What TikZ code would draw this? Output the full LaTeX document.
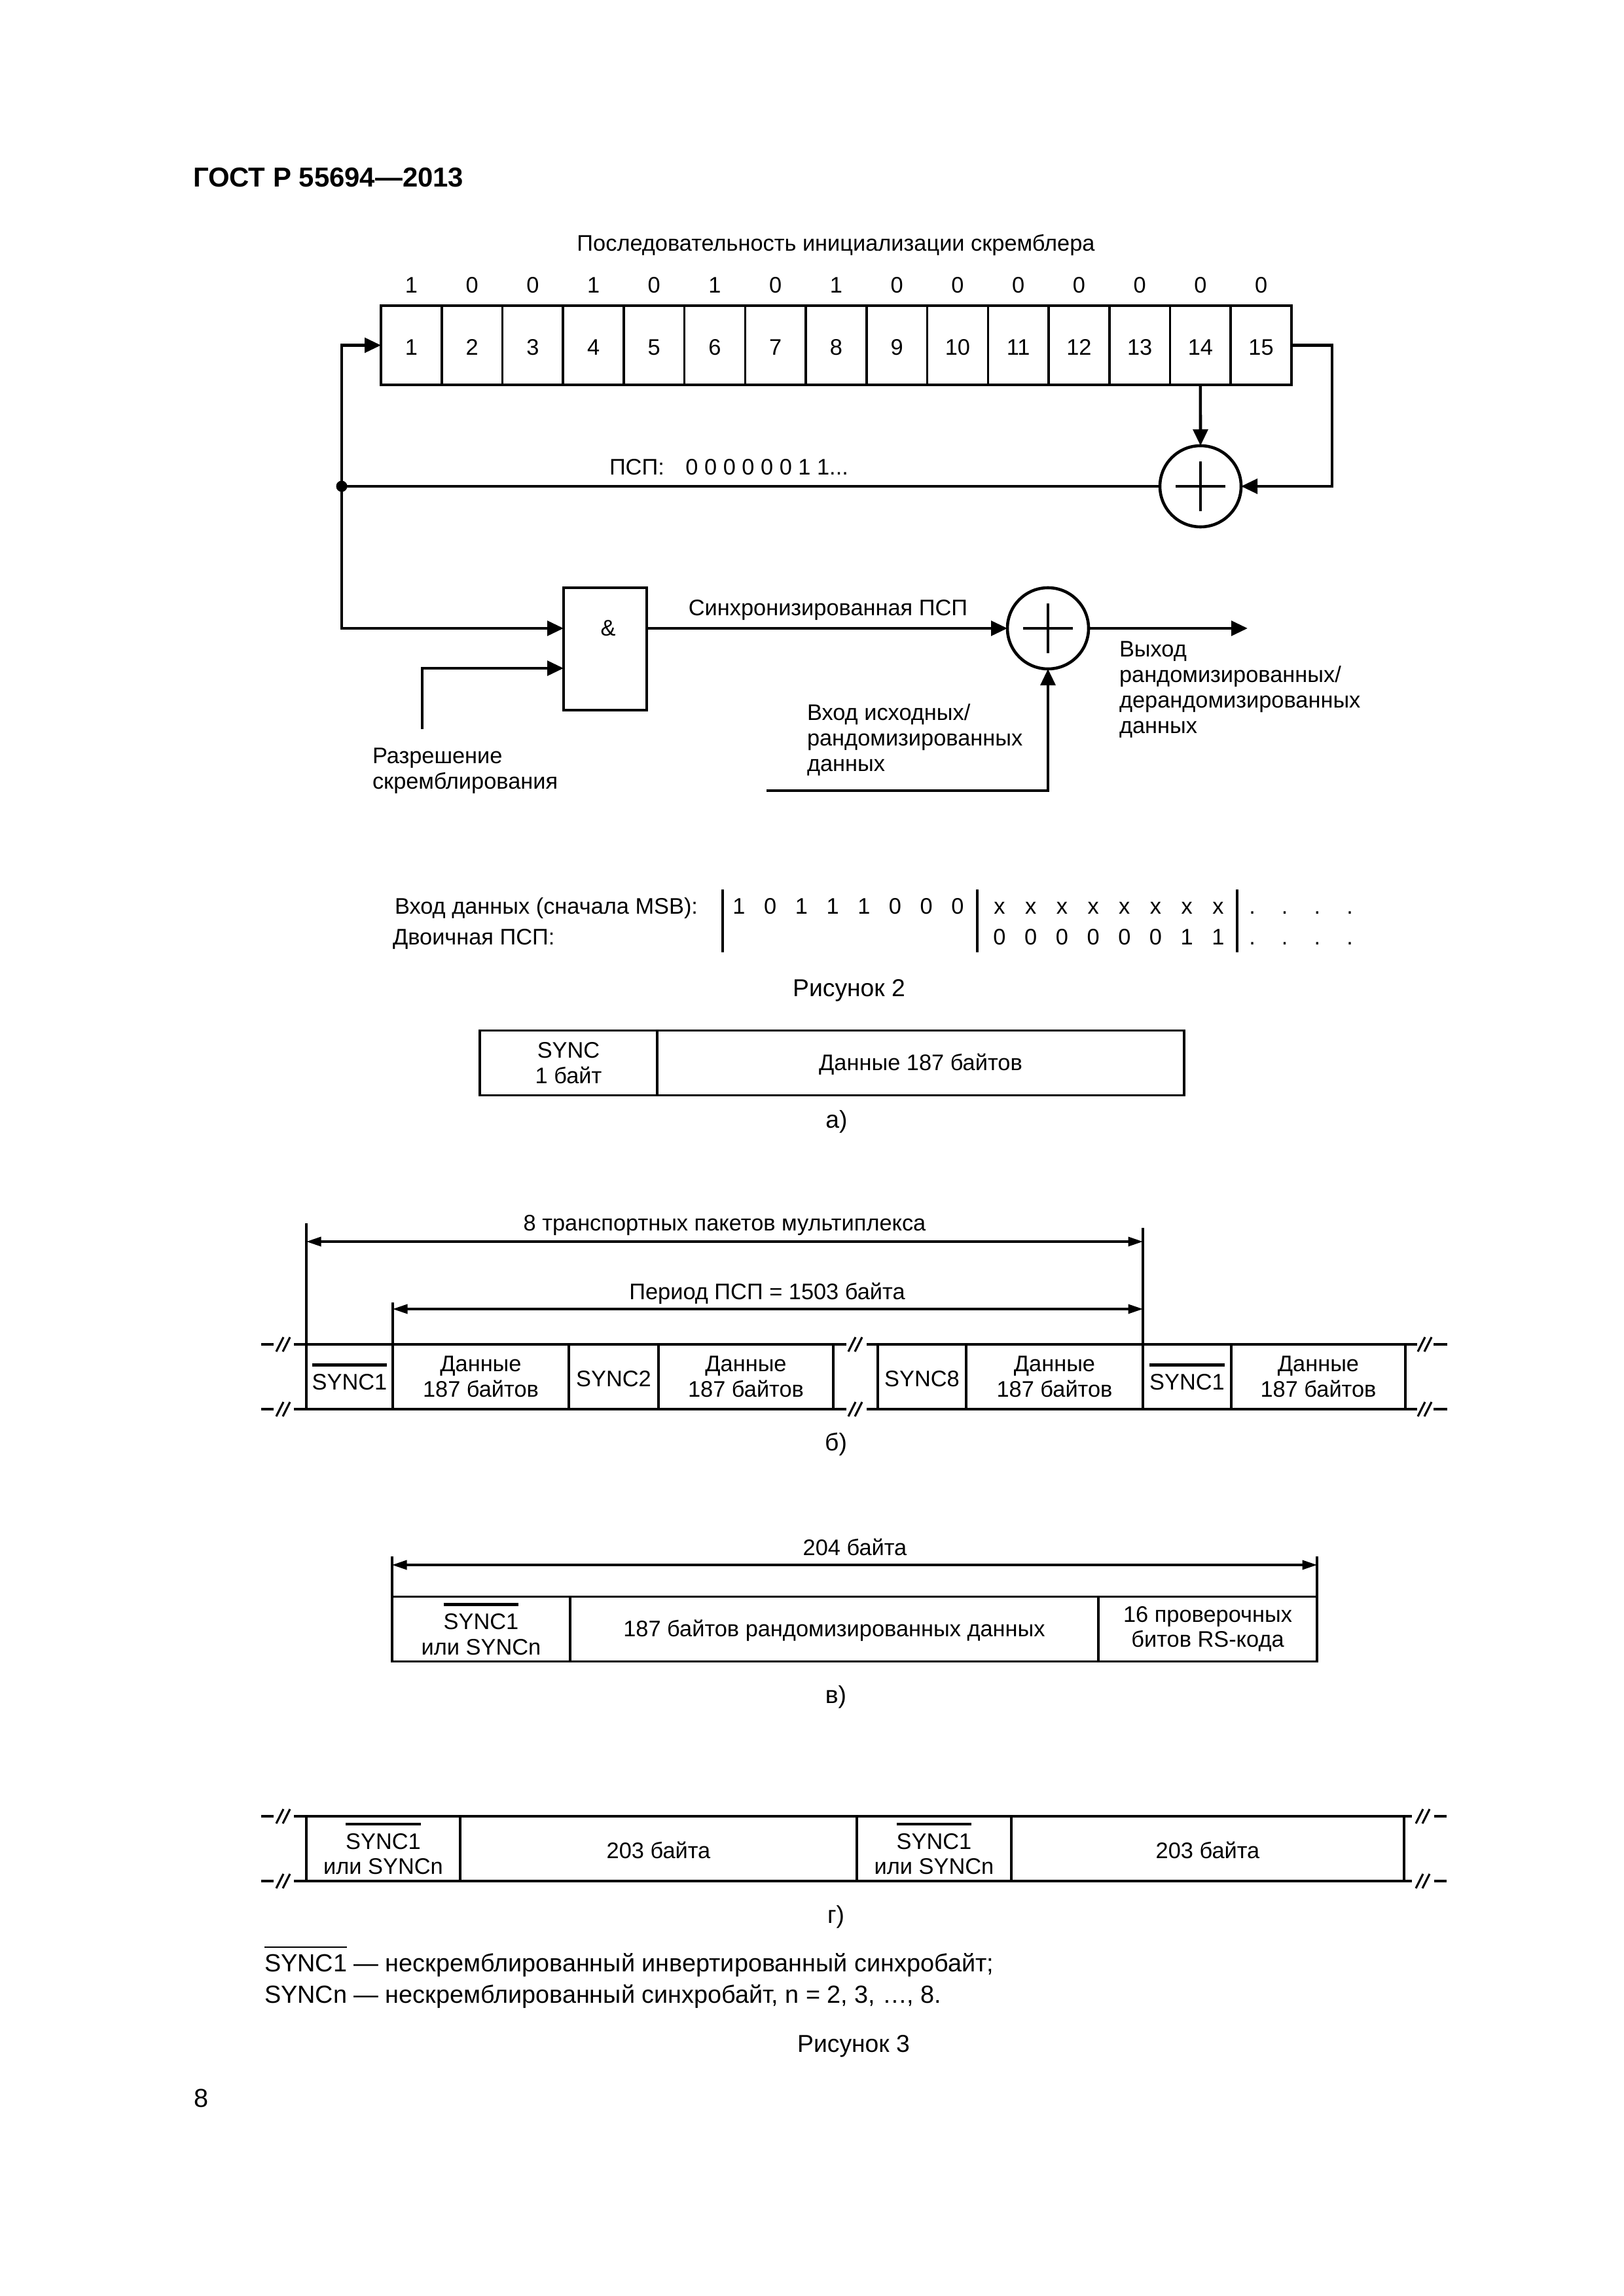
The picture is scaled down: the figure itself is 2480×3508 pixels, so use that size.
\documentclass[tikz,border=0pt]{standalone}
\usepackage{fontspec}
\setmainfont{Liberation Sans}
\usepackage{tikz}
\usetikzlibrary{arrows.meta, positioning, calc}

\def\px{0.24pt}
% черта над SYNC1
\newsavebox{\ovlbox}
\newcommand{\ovlsync}[2][1.1pt]{\sbox{\ovlbox}{#2}\makebox[0pt][l]{\rule[8.6pt]{\wd\ovlbox}{#1}}\usebox{\ovlbox}}
% разрыв линии
\newcommand{\brkmark}[2]{%
  \draw[thinln] (#1,#2) ++(-12,11) -- ++(11,-22);
  \draw[thinln] (#1,#2) ++(-2,11) -- ++(11,-22);
}

\tikzset{
  every node/.style={inner sep=0pt, outer sep=0pt, font=\fontsize{8.25pt}{9.3pt}\selectfont},
  ln/.style={line width=1.1pt},
  thinln/.style={line width=0.75pt},
  txt/.style={anchor=base},
  txtl/.style={anchor=base west, align=left},
  capfont/.style={font=\fontsize{8.95pt}{10.8pt}\selectfont},
  notefont/.style={font=\fontsize{9.08pt}{10.8pt}\selectfont},
  txtdown/.style={execute at begin node=\rule{0pt}{7.3pt}},
  cellbox/.style={draw, line width=0.85pt, anchor=west, align=center, minimum height=99*\px, txtdown},
  tailln/.style={line width=0.85pt},
  regbox/.style={draw, line width=0.85pt, minimum width=92.73*\px, minimum height=121*\px, txtdown},
  xorbox/.style={draw, circle, line width=1.1pt, minimum size=124*\px},
  arr/.style={ln, -{Triangle[length=6pt,width=5.4pt]}},
  dimarr/.style={line width=0.8pt, {Triangle[length=5.4pt,width=3.4pt]}-{Triangle[length=5.4pt,width=3.4pt]}}
}

\begin{document}
\begin{tikzpicture}[x=0.24pt, y=-0.24pt]
  \useasboundingbox (0,0) rectangle (2480,3508);

  % Колонтитулы
  \node[txtl, font=\fontsize{10.05pt}{12pt}\selectfont\bfseries] (hdr) at (295,286) {ГОСТ Р 55694—2013};
  \node[txtl, font=\fontsize{9.5pt}{11pt}\selectfont] (pnum) at (296,3219) {8};

  % Регистр скремблера
  \node[txt] (title) at (1277,384) {Последовательность инициализации скремблера};
  \foreach \v [count=\i] in {1,0,0,1,0,1,0,1,0,0,0,0,0,0,0} {
    \node[regbox] (reg\i) at ({582+92.73*(\i-0.5)},527.5) {\i};
    \node[txt] (bit\i) at ({582+92.73*(\i-0.5)},448) {\v};
  }

  % Сумматоры
  \node[xorbox] (xorfb) at (1834,743) {};
  \node[xorbox] (xorout) at (1601,960) {};
  \foreach \nm in {xorfb,xorout} {
    \draw[ln] (\nm.center) ++(-38,0) -- ++(76,0);
    \draw[ln] (\nm.center) ++(0,-38) -- ++(0,76);
  }

  % Элемент И
  \node[draw, ln, anchor=north west, minimum width=127*\px, minimum height=187*\px] (andbox) at (861,898) {};
  \node[txt] (andtxt) at (929,971) {\&};
  \coordinate (andin1) at (861,960);
  \coordinate (andin2) at (861,1021);
  \coordinate (andout) at (988,960);
  \coordinate (enbl) at (645,1114);
  \coordinate (datain) at (1171,1208);
  \coordinate (outend) at (1906,960);
  \node[circle, fill, minimum size=17*\px] (junc) at (522,743) {};

  % Соединения
  \draw[arr] (reg15.east) -- ++(62,0) |- (xorfb.east);
  \draw[arr] (reg14.south) -- (xorfb.north);
  \draw[ln] (xorfb.west) -- (junc.center);
  \draw[arr] (junc.center) |- (reg1.west);
  \draw[arr] (junc.center) |- (andin1);
  \draw[arr] (enbl) |- (andin2);
  \draw[arr] (andout) -- (xorout.west);
  \draw[arr] (datain) -| (xorout.south);
  \draw[arr] (xorout.east) -- (outend);

  % Подписи схемы
  \node[txtl] (psp) at (931,726) {ПСП:\hspace{0.95em}0 0 0 0 0 0 1 1...};
  \node[txt] (syncpsp) at (1265,941) {Синхронизированная ПСП};
  \node[txtl] (outtxt) at (1710,1120) {Выход\\рандомизированных/\\дерандомизированных\\данных};
  \node[txtl] (intxt) at (1233,1178) {Вход исходных/\\рандомизированных\\данных};
  \node[txtl] (entxt) at (569,1205) {Разрешение\\скремблирования};

  % Строки данных
  \node[txtl] (rowa) at (603,1396) {Вход данных (сначала MSB):};
  \node[txtl] (rowb) at (600,1443) {Двоичная ПСП:};
  \foreach \v [count=\i] in {1,0,1,1,1,0,0,0}
    \node[txt] (da\i) at ({1129+47.7*(\i-1)},1396) {\v};
  \foreach \v [count=\i] in {0,0,0,0,0,0,1,1} {
    \node[txt] (dx\i) at ({1527+47.7*(\i-1)},1396) {x};
    \node[txt] (db\i) at ({1527+47.7*(\i-1)},1443) {\v};
  }
  \foreach \i in {1,...,4} {
    \node[txt] (pa\i) at ({1913+49.7*(\i-1)},1396) {.};
    \node[txt] (pb\i) at ({1913+49.7*(\i-1)},1443) {.};
  }
  \foreach \xx [count=\i] in {1104,1493,1890}
    \draw[ln] (\xx,1359) -- (\xx,1455);
  \node[txt, capfont] (fig2) at (1297,1522) {Рисунок 2};

  % Пакет а)
  \node[cellbox, minimum width=271*\px] (a1) at (733,1624) {SYNC\\1 байт};
  \node[cellbox, minimum width=805*\px] (a2) at (a1.east) {Данные 187 байтов};
  \node[txt, capfont] (capa) at (1278,1723) {а)};

  % Пакет б)
  \foreach \nm/\xx/\w/\txtb in {b1/468/132/{\ovlsync{SYNC1}}, b2/600/269/{Данные\\187 байтов}, b3/869/137/{SYNC2},
      b4/1006/267/{Данные\\187 байтов}, b5/1341/135/{SYNC8}, b6/1476/270/{Данные\\187 байтов},
      b7/1746/135/{\ovlsync{SYNC1}}, b8/1881/266/{Данные\\187 байтов}}
    \node[cellbox, minimum width=\w*\px] (\nm) at (\xx,2103.5) {\txtb};
  \foreach \nm in {north,south} {
    \draw[tailln] (b1.\nm\space west) -- ++(-19,0);
    \draw[tailln] (b1.\nm\space west) ++(-50,0) -- ++(-19,0);
    \draw[tailln] (b4.\nm\space east) -- ++(20,0);
    \draw[tailln] (b5.\nm\space west) -- ++(-17,0);
    \draw[tailln] (b8.\nm\space east) -- ++(18,0);
    \draw[tailln] (b8.\nm\space east) ++(43,0) -- ++(21,0);
  }
  \foreach \yy in {2054,2153} {
    \brkmark{434}{\yy}
    \brkmark{1308}{\yy}
    \brkmark{2178}{\yy}
  }
  \draw[thinln] (b1.north west) -- ++(0,-185) coordinate (ext1);
  \draw[thinln] (b2.north west) -- ++(0,-64) coordinate (ext2);
  \draw[thinln] (b7.north west) -- ++(0,-178) coordinate (ext3);
  \coordinate (dim1l) at (468,1897);
  \coordinate (dim1r) at (1746,1897);
  \coordinate (dim2l) at (600,2000);
  \coordinate (dim2r) at (1746,2000);
  \draw[dimarr] (dim1l) -- (dim1r);
  \draw[dimarr] (dim2l) -- (dim2r);
  \node[txt] (dim1txt) at (1107,1880) {8 транспортных пакетов мультиплекса};
  \node[txt] (dim2txt) at (1172,1985) {Период ПСП = 1503 байта};
  \node[txt, capfont] (capb) at (1277,2216) {б)};

  % Пакет в)
  \node[cellbox, minimum width=272*\px] (c1) at (599,2489) {\ovlsync{SYNC1}\\или SYNCn};
  \node[cellbox, minimum width=807*\px] (c2) at (c1.east) {187 байтов рандомизированных данных};
  \node[cellbox, minimum width=334*\px] (c3) at (c2.east) {16 проверочных\\битов RS-кода};
  \draw[thinln] (c1.north west) -- ++(0,-62) coordinate (ext4);
  \draw[thinln] (c3.north east) -- ++(0,-62) coordinate (ext5);
  \coordinate (dim3l) at (599,2391);
  \coordinate (dim3r) at (2012,2391);
  \draw[dimarr] (dim3l) -- (dim3r);
  \node[txt] (dim3txt) at (1306,2376) {204 байта};
  \node[txt, capfont] (capc) at (1277,2602) {в)};

  % Пакет г)
  \node[cellbox, minimum width=235*\px] (d1) at (468,2824.5) {\ovlsync{SYNC1}\\или SYNCn};
  \node[cellbox, minimum width=606*\px] (d2) at (d1.east) {203 байта};
  \node[cellbox, minimum width=236*\px] (d3) at (d2.east) {\ovlsync{SYNC1}\\или SYNCn};
  \node[cellbox, minimum width=600*\px] (d4) at (d3.east) {203 байта};
  \foreach \nm in {north,south} {
    \draw[tailln] (d1.\nm\space west) -- ++(-19,0);
    \draw[tailln] (d1.\nm\space west) ++(-50,0) -- ++(-19,0);
    \draw[tailln] (d4.\nm\space east) -- ++(12,0);
    \draw[tailln] (d4.\nm\space east) ++(46,0) -- ++(19,0);
  }
  \foreach \yy in {2775,2874} {
    \brkmark{434}{\yy}
    \brkmark{2175}{\yy}
  }
  \node[txt, capfont] (capd) at (1277,2938) {г)};

  % Примечания и подпись
  \node[txtl, notefont] (note1) at (404,3012) {\ovlsync[0.55pt]{SYNC1} — нескремблированный инвертированный синхробайт;};
  \node[txtl, notefont] (note2) at (404,3060) {SYNCn — нескремблированный синхробайт, n = 2, 3, …, 8.};
  \node[txt, capfont] (fig3) at (1304,3135) {Рисунок 3};
\end{tikzpicture}
\end{document}
